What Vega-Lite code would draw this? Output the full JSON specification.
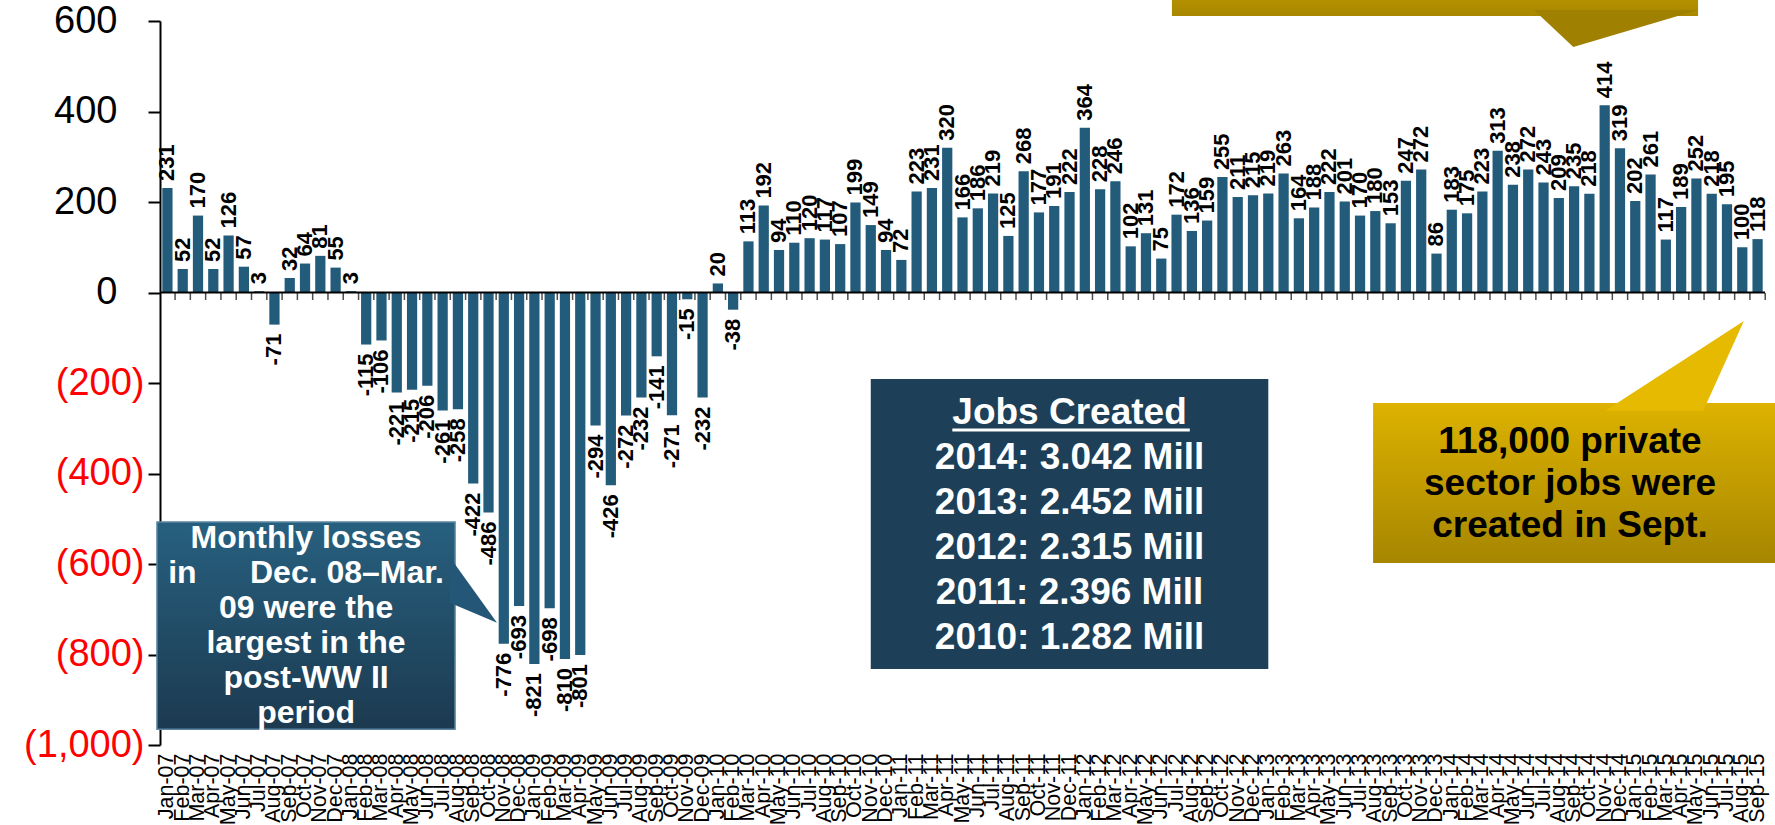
{
  "$schema": "https://vega.github.io/schema/vega-lite/v6.json",
  "width": 1605,
  "height": 724,
  "autosize": "none",
  "padding": {"left": 160, "top": 21, "right": 10, "bottom": 80},
  "background": "white",
  "config": {"view": {"stroke": null}, "font": "Liberation Sans"},
  "data": {"values": [
    {"m": "Jan-07", "v": 231}, {"m": "Feb-07", "v": 52}, {"m": "Mar-07", "v": 170}, {"m": "Apr-07", "v": 52}, {"m": "May-07", "v": 126}, {"m": "Jun-07", "v": 57}, {"m": "Jul-07", "v": 3}, {"m": "Aug-07", "v": -71}, {"m": "Sep-07", "v": 32}, {"m": "Oct-07", "v": 64}, {"m": "Nov-07", "v": 81}, {"m": "Dec-07", "v": 55},
    {"m": "Jan-08", "v": 3}, {"m": "Feb-08", "v": -115}, {"m": "Mar-08", "v": -106}, {"m": "Apr-08", "v": -221}, {"m": "May-08", "v": -215}, {"m": "Jun-08", "v": -206}, {"m": "Jul-08", "v": -261}, {"m": "Aug-08", "v": -258}, {"m": "Sep-08", "v": -422}, {"m": "Oct-08", "v": -486}, {"m": "Nov-08", "v": -776}, {"m": "Dec-08", "v": -693},
    {"m": "Jan-09", "v": -821}, {"m": "Feb-09", "v": -698}, {"m": "Mar-09", "v": -810}, {"m": "Apr-09", "v": -801}, {"m": "May-09", "v": -294}, {"m": "Jun-09", "v": -426}, {"m": "Jul-09", "v": -272}, {"m": "Aug-09", "v": -232}, {"m": "Sep-09", "v": -141}, {"m": "Oct-09", "v": -271}, {"m": "Nov-09", "v": -15}, {"m": "Dec-09", "v": -232},
    {"m": "Jan-10", "v": 20}, {"m": "Feb-10", "v": -38}, {"m": "Mar-10", "v": 113}, {"m": "Apr-10", "v": 192}, {"m": "May-10", "v": 94}, {"m": "Jun-10", "v": 110}, {"m": "Jul-10", "v": 120}, {"m": "Aug-10", "v": 117}, {"m": "Sep-10", "v": 107}, {"m": "Oct-10", "v": 199}, {"m": "Nov-10", "v": 149}, {"m": "Dec-10", "v": 94},
    {"m": "Jan-11", "v": 72}, {"m": "Feb-11", "v": 223}, {"m": "Mar-11", "v": 231}, {"m": "Apr-11", "v": 320}, {"m": "May-11", "v": 166}, {"m": "Jun-11", "v": 186}, {"m": "Jul-11", "v": 219}, {"m": "Aug-11", "v": 125}, {"m": "Sep-11", "v": 268}, {"m": "Oct-11", "v": 177}, {"m": "Nov-11", "v": 191}, {"m": "Dec-11", "v": 222},
    {"m": "Jan-12", "v": 364}, {"m": "Feb-12", "v": 228}, {"m": "Mar-12", "v": 246}, {"m": "Apr-12", "v": 102}, {"m": "May-12", "v": 131}, {"m": "Jun-12", "v": 75}, {"m": "Jul-12", "v": 172}, {"m": "Aug-12", "v": 136}, {"m": "Sep-12", "v": 159}, {"m": "Oct-12", "v": 255}, {"m": "Nov-12", "v": 211}, {"m": "Dec-12", "v": 215},
    {"m": "Jan-13", "v": 219}, {"m": "Feb-13", "v": 263}, {"m": "Mar-13", "v": 164}, {"m": "Apr-13", "v": 188}, {"m": "May-13", "v": 222}, {"m": "Jun-13", "v": 201}, {"m": "Jul-13", "v": 170}, {"m": "Aug-13", "v": 180}, {"m": "Sep-13", "v": 153}, {"m": "Oct-13", "v": 247}, {"m": "Nov-13", "v": 272}, {"m": "Dec-13", "v": 86},
    {"m": "Jan-14", "v": 183}, {"m": "Feb-14", "v": 175}, {"m": "Mar-14", "v": 223}, {"m": "Apr-14", "v": 313}, {"m": "May-14", "v": 238}, {"m": "Jun-14", "v": 272}, {"m": "Jul-14", "v": 243}, {"m": "Aug-14", "v": 209}, {"m": "Sep-14", "v": 235}, {"m": "Oct-14", "v": 218}, {"m": "Nov-14", "v": 414}, {"m": "Dec-14", "v": 319},
    {"m": "Jan-15", "v": 202}, {"m": "Feb-15", "v": 261}, {"m": "Mar-15", "v": 117}, {"m": "Apr-15", "v": 189}, {"m": "May-15", "v": 252}, {"m": "Jun-15", "v": 218}, {"m": "Jul-15", "v": 195}, {"m": "Aug-15", "v": 100}, {"m": "Sep-15", "v": 118}
  ]},
  "layer": [
    {
      "mark": {"type": "bar", "color": "#235B7A"},
      "encoding": {
        "x": {
          "field": "m", "type": "ordinal",
          "scale": {
            "domain": ["Jan-07","Feb-07","Mar-07","Apr-07","May-07","Jun-07","Jul-07","Aug-07","Sep-07","Oct-07","Nov-07","Dec-07","Jan-08","Feb-08","Mar-08","Apr-08","May-08","Jun-08","Jul-08","Aug-08","Sep-08","Oct-08","Nov-08","Dec-08","Jan-09","Feb-09","Mar-09","Apr-09","May-09","Jun-09","Jul-09","Aug-09","Sep-09","Oct-09","Nov-09","Dec-09","Jan-10","Feb-10","Mar-10","Apr-10","May-10","Jun-10","Jul-10","Aug-10","Sep-10","Oct-10","Nov-10","Dec-10","Jan-11","Feb-11","Mar-11","Apr-11","May-11","Jun-11","Jul-11","Aug-11","Sep-11","Oct-11","Nov-11","Dec-11","Jan-12","Feb-12","Mar-12","Apr-12","May-12","Jun-12","Jul-12","Aug-12","Sep-12","Oct-12","Nov-12","Dec-12","Jan-13","Feb-13","Mar-13","Apr-13","May-13","Jun-13","Jul-13","Aug-13","Sep-13","Oct-13","Nov-13","Dec-13","Jan-14","Feb-14","Mar-14","Apr-14","May-14","Jun-14","Jul-14","Aug-14","Sep-14","Oct-14","Nov-14","Dec-14","Jan-15","Feb-15","Mar-15","Apr-15","May-15","Jun-15","Jul-15","Aug-15","Sep-15"],
            "paddingInner": 0.33, "paddingOuter": 0.15
          },
          "axis": {"title": null, "labelAngle": 270, "labelFontSize": 21.5, "labelPadding": 8, "labelColor": "black", "domain": false, "ticks": false, "labelOverlap": false, "labelBound": false}
        },
        "y": {
          "field": "v", "type": "quantitative",
          "scale": {"domain": [-1000, 600], "nice": false},
          "axis": {
            "title": null, "grid": false,
            "values": [-1000, -800, -600, -400, -200, 0, 200, 400, 600],
            "domainColor": "black", "domainWidth": 2,
            "tickColor": "black", "tickWidth": 2, "tickSize": 12,
            "labelFontSize": 38,
            "labelPadding": {"condition": {"test": "datum.value < 0", "value": 4}, "value": 31},
            "labelExpr": "datum.value < 0 ? '(' + format(-datum.value, ',') + ')' : format(datum.value, ',')",
            "labelColor": {"condition": {"test": "datum.value < 0", "value": "#FF0000"}, "value": "black"}
          }
        }
      }
    },
    {
      "data": {"values": [{}]},
      "mark": {"type": "rule", "color": "black", "strokeWidth": 2},
      "encoding": {"y": {"datum": 0}}
    },
    {
      "mark": {"type": "tick", "orient": "vertical", "color": "black", "thickness": 1.5, "size": 7, "yOffset": 4},
      "encoding": {
        "x": {"field": "m", "type": "ordinal", "bandPosition": 1.246},
        "y": {"datum": 0}
      }
    },
    {
      "transform": [{"filter": "datum.v >= 0"}],
      "mark": {"type": "text", "angle": 270, "align": "left", "baseline": "middle", "dx": 7, "fontSize": 22, "fontWeight": "bold", "color": "black"},
      "encoding": {
        "x": {"field": "m", "type": "ordinal"},
        "y": {"field": "v", "type": "quantitative"},
        "text": {"field": "v", "type": "nominal"}
      }
    },
    {
      "transform": [{"filter": "datum.v < 0"}],
      "mark": {"type": "text", "angle": 270, "align": "right", "baseline": "middle", "dx": -9, "fontSize": 22, "fontWeight": "bold", "color": "black"},
      "encoding": {
        "x": {"field": "m", "type": "ordinal"},
        "y": {"field": "v", "type": "quantitative"},
        "text": {"field": "v", "type": "nominal"}
      }
    },
    {
      "data": {"values": [{}]},
      "mark": {"type": "rect", "stroke": "#5B87A3", "strokeWidth": 1.5,
        "fill": {"gradient": "linear", "x1": 0, "y1": 0, "x2": 0, "y2": 1, "stops": [{"offset": 0, "color": "#27607F"}, {"offset": 1, "color": "#1C3A50"}]}},
      "encoding": {
        "x": {"datum": "Jan-07", "bandPosition": -0.52},
        "x2": {"datum": "Aug-08", "bandPosition": 0.22},
        "y": {"datum": -507},
        "y2": {"datum": -965}
      }
    },
    {
      "data": {"values": [{}]},
      "mark": {"type": "point", "filled": true, "opacity": 1, "color": "#245777", "strokeWidth": 0, "size": 4900, "shape": "M-0.75,-0.94L0.6,0.94L-0.75,0.37Z"},
      "encoding": {
        "x": {"datum": "Sep-08", "bandPosition": 0.77},
        "y": {"datum": -657}
      }
    },
    {
      "data": {"values": [{}]},
      "mark": {"type": "text", "align": "center", "baseline": "middle", "fontSize": 32, "fontWeight": "bold", "color": "white", "lineHeight": 35},
      "encoding": {
        "x": {"datum": "Oct-07", "bandPosition": 0.6},
        "y": {"datum": -543},
        "text": {"value": ["Monthly losses", "in\u00a0\u00a0\u00a0\u00a0\u00a0 Dec. 08\u2013Mar.", "09 were the", "largest in the", "post-WW II", "period"]}
      }
    },
    {
      "data": {"values": [{}]},
      "mark": {"type": "rect", "fill": "#1D3F58"},
      "encoding": {
        "x": {"datum": "Nov-10"},
        "x2": {"datum": "Jan-13"},
        "y": {"datum": -191},
        "y2": {"datum": -832}
      }
    },
    {
      "data": {"values": [{}]},
      "mark": {"type": "text", "align": "center", "baseline": "middle", "fontSize": 37, "fontWeight": "bold", "color": "white", "lineHeight": 45},
      "encoding": {
        "x": {"datum": "Dec-11"},
        "y": {"datum": -266},
        "text": {"value": ["Jobs Created", "2014: 3.042 Mill", "2013: 2.452 Mill", "2012: 2.315 Mill", "2011: 2.396 Mill", "2010: 1.282 Mill"]}
      }
    },
    {
      "data": {"values": [{}]},
      "mark": {"type": "rule", "color": "white", "strokeWidth": 3},
      "encoding": {
        "x": {"datum": "Apr-11", "bandPosition": 1.0},
        "x2": {"datum": "Aug-12", "bandPosition": 0.3},
        "y": {"datum": -304}
      }
    },
    {
      "data": {"values": [{}]},
      "mark": {"type": "rect",
        "fill": {"gradient": "linear", "x1": 0, "y1": 0, "x2": 0, "y2": 1, "stops": [{"offset": 0, "color": "#DDB200"}, {"offset": 1, "color": "#A68600"}]}},
      "encoding": {
        "x": {"datum": "Aug-13", "bandPosition": 0.28},
        "x2": {"datum": "Sep-15", "bandPosition": 3},
        "y": {"datum": -244},
        "y2": {"datum": -598}
      }
    },
    {
      "data": {"values": [{}]},
      "mark": {"type": "point", "filled": true, "opacity": 1, "color": "#E6BA00", "strokeWidth": 0, "size": 19600, "shape": "M-0.99,0.66L0.99,-0.62L0.41,0.66Z"},
      "encoding": {
        "x": {"datum": "Mar-15", "bandPosition": 1.35},
        "y": {"datum": -159}
      }
    },
    {
      "data": {"values": [{}]},
      "mark": {"type": "text", "align": "center", "baseline": "middle", "fontSize": 37, "fontWeight": "bold", "color": "black", "lineHeight": 42},
      "encoding": {
        "x": {"datum": "Sep-14", "bandPosition": 0.1},
        "y": {"datum": -331},
        "text": {"value": ["118,000 private", "sector jobs were", "created in Sept."]}
      }
    },
    {
      "data": {"values": [{}]},
      "mark": {"type": "rect",
        "fill": {"gradient": "linear", "x1": 0, "y1": 0, "x2": 0, "y2": 1, "stops": [{"offset": 0, "color": "#BF9A00"}, {"offset": 1, "color": "#A98800"}]}},
      "encoding": {
        "x": {"datum": "Jun-12", "bandPosition": 1.54},
        "x2": {"datum": "May-15", "bandPosition": 0.66},
        "y": {"datum": 690},
        "y2": {"datum": 611}
      }
    },
    {
      "data": {"values": [{}]},
      "mark": {"type": "point", "filled": true, "opacity": 1, "color": "#A08000", "strokeWidth": 0, "size": 26896, "shape": "M-1,-0.25L-0.52,0.2L1,-0.25Z"},
      "encoding": {
        "x": {"datum": "Dec-14", "bandPosition": 0.11},
        "y": {"datum": 579}
      }
    }
  ]
}
